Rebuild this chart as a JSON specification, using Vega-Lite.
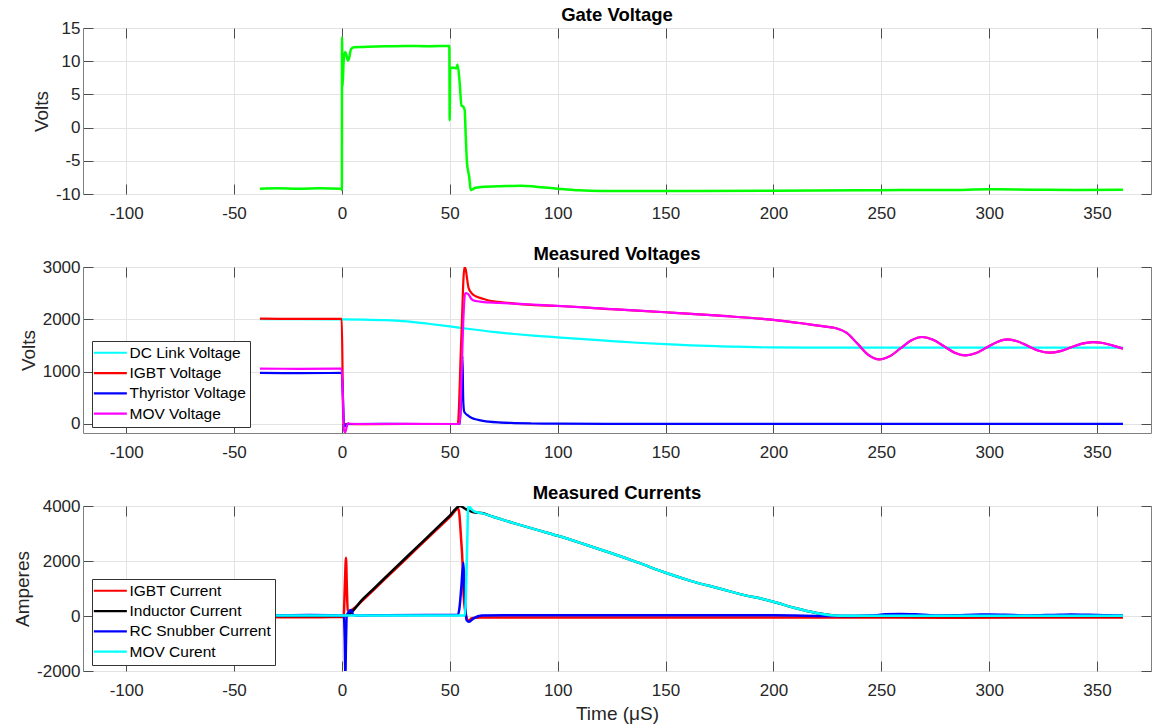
{
  "$schema": "https://vega.github.io/schema/vega-lite/v6.json",
  "padding": {"left": 13, "top": 5, "right": 0, "bottom": 0},
  "background": "white",
  "config": {
    "font": "Liberation Sans",
    "view": {"stroke": "#808080", "strokeWidth": 1},
    "axis": {
      "labelFont": "Liberation Sans", "labelFontSize": 17, "labelColor": "#262626",
      "titleFont": "Liberation Sans", "titleFontSize": 19, "titleFontWeight": "normal", "titleColor": "#262626",
      "gridColor": "#e3e3e3", "gridWidth": 1, "domain": false,
      "tickColor": "#4d4d4d", "tickSize": -10, "tickWidth": 1, "labelExpr": "'' + datum.value"
    },
    "axisX": {"labelPadding": 21},
    "axisY": {"labelPadding": 13, "titlePadding": 4},
    "title": {"font": "Liberation Sans", "fontSize": 18.5, "fontWeight": "bold", "color": "#000000", "offset": -5, "anchor": "middle"},
    "legend": {
      "orient": "none", "title": null, "symbolType": "M-1.8,0H4.2", "symbolSize": 121, "symbolStrokeWidth": 2.2,
      "labelFont": "Liberation Sans", "labelFontSize": 15.5, "labelColor": "#000000", "padding": 4, "rowPadding": 3.3,
      "labelOffset": 18, "strokeColor": "#333333", "fillColor": "white", "cornerRadius": 0
    }
  },
  "spacing": 73,
  "bounds": "flush",
  "resolve": {"scale": {"x": "independent", "y": "independent", "color": "independent"}},
  "datasets": {
    "gate": [
      {"t": -38, "v": -9.2}, {"t": -30, "v": -9.15}, {"t": -20, "v": -9.2}, {"t": -10, "v": -9.15}, {"t": -0.2, "v": -9.2},
      {"t": 0, "v": -9.4}, {"t": 0.05, "v": 13.6}, {"t": 0.3, "v": 6.2}, {"t": 0.8, "v": 10}, {"t": 1.5, "v": 11.4},
      {"t": 2.2, "v": 10.8}, {"t": 2.8, "v": 10.1}, {"t": 3.3, "v": 10.4}, {"t": 4.2, "v": 11.8}, {"t": 5.5, "v": 12.1},
      {"t": 10, "v": 12.15}, {"t": 20, "v": 12.25}, {"t": 30, "v": 12.3}, {"t": 40, "v": 12.25}, {"t": 49.8, "v": 12.3},
      {"t": 49.95, "v": 1.1}, {"t": 50.2, "v": 9.0}, {"t": 52, "v": 9.0}, {"t": 53, "v": 8.9}, {"t": 53.6, "v": 9.5},
      {"t": 54.6, "v": 6.7}, {"t": 55.4, "v": 3.3}, {"t": 56.0, "v": 3.25}, {"t": 56.9, "v": 2.65}, {"t": 57.4, "v": -1.4},
      {"t": 58.0, "v": -5.4}, {"t": 59.0, "v": -7.4}, {"t": 59.7, "v": -9.4}, {"t": 60.5, "v": -9.3}, {"t": 62, "v": -9.05},
      {"t": 66, "v": -8.9}, {"t": 72, "v": -8.85}, {"t": 83, "v": -8.75}, {"t": 90, "v": -8.9}, {"t": 100, "v": -9.2},
      {"t": 110, "v": -9.45}, {"t": 120, "v": -9.55}, {"t": 150, "v": -9.55}, {"t": 200, "v": -9.5}, {"t": 240, "v": -9.45},
      {"t": 260, "v": -9.4}, {"t": 280, "v": -9.4}, {"t": 300, "v": -9.3}, {"t": 320, "v": -9.35}, {"t": 340, "v": -9.4},
      {"t": 362, "v": -9.35}
    ],
    "volt": [
      {"s": "DC Link Voltage", "t": -38, "v": 2005}, {"s": "DC Link Voltage", "t": -20, "v": 2002}, {"s": "DC Link Voltage", "t": 0, "v": 2000},
      {"s": "DC Link Voltage", "t": 10, "v": 1996}, {"s": "DC Link Voltage", "t": 20, "v": 1985}, {"s": "DC Link Voltage", "t": 30, "v": 1960},
      {"s": "DC Link Voltage", "t": 40, "v": 1915}, {"s": "DC Link Voltage", "t": 50, "v": 1865}, {"s": "DC Link Voltage", "t": 60, "v": 1810},
      {"s": "DC Link Voltage", "t": 70, "v": 1760}, {"s": "DC Link Voltage", "t": 80, "v": 1720}, {"s": "DC Link Voltage", "t": 90, "v": 1685},
      {"s": "DC Link Voltage", "t": 100, "v": 1655}, {"s": "DC Link Voltage", "t": 112, "v": 1620}, {"s": "DC Link Voltage", "t": 125, "v": 1585},
      {"s": "DC Link Voltage", "t": 137, "v": 1553}, {"s": "DC Link Voltage", "t": 150, "v": 1525}, {"s": "DC Link Voltage", "t": 162, "v": 1503},
      {"s": "DC Link Voltage", "t": 175, "v": 1485}, {"s": "DC Link Voltage", "t": 187, "v": 1472}, {"s": "DC Link Voltage", "t": 200, "v": 1463},
      {"s": "DC Link Voltage", "t": 215, "v": 1459}, {"s": "DC Link Voltage", "t": 240, "v": 1458}, {"s": "DC Link Voltage", "t": 280, "v": 1460},
      {"s": "DC Link Voltage", "t": 320, "v": 1461}, {"s": "DC Link Voltage", "t": 362, "v": 1460},

      {"s": "IGBT Voltage", "t": -38, "v": 2012}, {"s": "IGBT Voltage", "t": -20, "v": 2010}, {"s": "IGBT Voltage", "t": -0.1, "v": 2010},
      {"s": "IGBT Voltage", "t": 0.3, "v": 1000}, {"s": "IGBT Voltage", "t": 0.6, "v": 0}, {"s": "IGBT Voltage", "t": 2, "v": 0},
      {"s": "IGBT Voltage", "t": 10, "v": -2}, {"s": "IGBT Voltage", "t": 30, "v": 0}, {"s": "IGBT Voltage", "t": 53.7, "v": 0},
      {"s": "IGBT Voltage", "t": 55.3, "v": 1600}, {"s": "IGBT Voltage", "t": 56.8, "v": 3000}, {"s": "IGBT Voltage", "t": 57.4, "v": 2950},
      {"s": "IGBT Voltage", "t": 57.9, "v": 2810}, {"s": "IGBT Voltage", "t": 58.7, "v": 2600}, {"s": "IGBT Voltage", "t": 60.2, "v": 2495},
      {"s": "IGBT Voltage", "t": 62, "v": 2440}, {"s": "IGBT Voltage", "t": 64.8, "v": 2400}, {"s": "IGBT Voltage", "t": 68, "v": 2360},
      {"s": "IGBT Voltage", "t": 72.5, "v": 2335}, {"s": "IGBT Voltage", "t": 80, "v": 2300}, {"s": "IGBT Voltage", "t": 88, "v": 2275},
      {"s": "IGBT Voltage", "t": 100, "v": 2255}, {"s": "IGBT Voltage", "t": 125, "v": 2195}, {"s": "IGBT Voltage", "t": 150, "v": 2135},
      {"s": "IGBT Voltage", "t": 175, "v": 2070}, {"s": "IGBT Voltage", "t": 200, "v": 1990}, {"s": "IGBT Voltage", "t": 213, "v": 1925},
      {"s": "IGBT Voltage", "t": 220, "v": 1885}, {"s": "IGBT Voltage", "t": 226, "v": 1850}, {"s": "IGBT Voltage", "t": 229, "v": 1830},
      {"s": "IGBT Voltage", "t": 234, "v": 1743}, {"s": "IGBT Voltage", "t": 239, "v": 1532}, {"s": "IGBT Voltage", "t": 244, "v": 1322},
      {"s": "IGBT Voltage", "t": 249, "v": 1235}, {"s": "IGBT Voltage", "t": 254, "v": 1297}, {"s": "IGBT Voltage", "t": 259, "v": 1448},
      {"s": "IGBT Voltage", "t": 264, "v": 1600}, {"s": "IGBT Voltage", "t": 269, "v": 1662}, {"s": "IGBT Voltage", "t": 274, "v": 1611},
      {"s": "IGBT Voltage", "t": 279, "v": 1487}, {"s": "IGBT Voltage", "t": 284, "v": 1363}, {"s": "IGBT Voltage", "t": 289, "v": 1312},
      {"s": "IGBT Voltage", "t": 294, "v": 1357}, {"s": "IGBT Voltage", "t": 299, "v": 1465}, {"s": "IGBT Voltage", "t": 304, "v": 1573},
      {"s": "IGBT Voltage", "t": 308.5, "v": 1618}, {"s": "IGBT Voltage", "t": 313, "v": 1581}, {"s": "IGBT Voltage", "t": 318, "v": 1490},
      {"s": "IGBT Voltage", "t": 323, "v": 1400}, {"s": "IGBT Voltage", "t": 328, "v": 1363}, {"s": "IGBT Voltage", "t": 333, "v": 1393},
      {"s": "IGBT Voltage", "t": 338, "v": 1465}, {"s": "IGBT Voltage", "t": 343, "v": 1536}, {"s": "IGBT Voltage", "t": 348, "v": 1566},
      {"s": "IGBT Voltage", "t": 352, "v": 1553}, {"s": "IGBT Voltage", "t": 356, "v": 1515}, {"s": "IGBT Voltage", "t": 359, "v": 1478},
      {"s": "IGBT Voltage", "t": 362, "v": 1440},

      {"s": "Thyristor Voltage", "t": -38, "v": 975}, {"s": "Thyristor Voltage", "t": -20, "v": 972}, {"s": "Thyristor Voltage", "t": -0.1, "v": 975},
      {"s": "Thyristor Voltage", "t": 0.5, "v": 500}, {"s": "Thyristor Voltage", "t": 1.0, "v": -45}, {"s": "Thyristor Voltage", "t": 1.6, "v": -40},
      {"s": "Thyristor Voltage", "t": 2.2, "v": 0}, {"s": "Thyristor Voltage", "t": 20, "v": 2}, {"s": "Thyristor Voltage", "t": 40, "v": 0},
      {"s": "Thyristor Voltage", "t": 54.7, "v": 0}, {"s": "Thyristor Voltage", "t": 55.4, "v": 700}, {"s": "Thyristor Voltage", "t": 55.9, "v": 1300},
      {"s": "Thyristor Voltage", "t": 56.2, "v": 500}, {"s": "Thyristor Voltage", "t": 56.6, "v": 250}, {"s": "Thyristor Voltage", "t": 57.1, "v": 210},
      {"s": "Thyristor Voltage", "t": 58.5, "v": 160}, {"s": "Thyristor Voltage", "t": 60.2, "v": 115}, {"s": "Thyristor Voltage", "t": 62.5, "v": 85},
      {"s": "Thyristor Voltage", "t": 64.8, "v": 63}, {"s": "Thyristor Voltage", "t": 68, "v": 45}, {"s": "Thyristor Voltage", "t": 72.5, "v": 30},
      {"s": "Thyristor Voltage", "t": 80, "v": 18}, {"s": "Thyristor Voltage", "t": 88, "v": 10}, {"s": "Thyristor Voltage", "t": 100, "v": 6},
      {"s": "Thyristor Voltage", "t": 150, "v": 3}, {"s": "Thyristor Voltage", "t": 200, "v": 3}, {"s": "Thyristor Voltage", "t": 250, "v": 4},
      {"s": "Thyristor Voltage", "t": 300, "v": 3}, {"s": "Thyristor Voltage", "t": 362, "v": 3},

      {"s": "MOV Voltage", "t": -38, "v": 1058}, {"s": "MOV Voltage", "t": -20, "v": 1055}, {"s": "MOV Voltage", "t": -0.1, "v": 1057},
      {"s": "MOV Voltage", "t": 0.4, "v": 600}, {"s": "MOV Voltage", "t": 0.9, "v": -100}, {"s": "MOV Voltage", "t": 1.5, "v": -160},
      {"s": "MOV Voltage", "t": 2.2, "v": -60}, {"s": "MOV Voltage", "t": 2.9, "v": 18}, {"s": "MOV Voltage", "t": 3.6, "v": 5},
      {"s": "MOV Voltage", "t": 10, "v": 0}, {"s": "MOV Voltage", "t": 30, "v": 2}, {"s": "MOV Voltage", "t": 54.5, "v": 0},
      {"s": "MOV Voltage", "t": 55.5, "v": 1000}, {"s": "MOV Voltage", "t": 56.4, "v": 2100}, {"s": "MOV Voltage", "t": 57.1, "v": 2495},
      {"s": "MOV Voltage", "t": 57.6, "v": 2500}, {"s": "MOV Voltage", "t": 58.7, "v": 2476}, {"s": "MOV Voltage", "t": 60.2, "v": 2380},
      {"s": "MOV Voltage", "t": 62, "v": 2350}, {"s": "MOV Voltage", "t": 64.8, "v": 2335}, {"s": "MOV Voltage", "t": 72.5, "v": 2315},
      {"s": "MOV Voltage", "t": 88, "v": 2283}, {"s": "MOV Voltage", "t": 100, "v": 2258}, {"s": "MOV Voltage", "t": 125, "v": 2195},
      {"s": "MOV Voltage", "t": 150, "v": 2135}, {"s": "MOV Voltage", "t": 175, "v": 2070}, {"s": "MOV Voltage", "t": 200, "v": 1990},
      {"s": "MOV Voltage", "t": 213, "v": 1925}, {"s": "MOV Voltage", "t": 220, "v": 1885}, {"s": "MOV Voltage", "t": 226, "v": 1850},
      {"s": "MOV Voltage", "t": 229, "v": 1830}, {"s": "MOV Voltage", "t": 234, "v": 1743}, {"s": "MOV Voltage", "t": 239, "v": 1532},
      {"s": "MOV Voltage", "t": 244, "v": 1322}, {"s": "MOV Voltage", "t": 249, "v": 1235}, {"s": "MOV Voltage", "t": 254, "v": 1297},
      {"s": "MOV Voltage", "t": 259, "v": 1448}, {"s": "MOV Voltage", "t": 264, "v": 1600}, {"s": "MOV Voltage", "t": 269, "v": 1662},
      {"s": "MOV Voltage", "t": 274, "v": 1611}, {"s": "MOV Voltage", "t": 279, "v": 1487}, {"s": "MOV Voltage", "t": 284, "v": 1363},
      {"s": "MOV Voltage", "t": 289, "v": 1312}, {"s": "MOV Voltage", "t": 294, "v": 1357}, {"s": "MOV Voltage", "t": 299, "v": 1465},
      {"s": "MOV Voltage", "t": 304, "v": 1573}, {"s": "MOV Voltage", "t": 308.5, "v": 1618}, {"s": "MOV Voltage", "t": 313, "v": 1581},
      {"s": "MOV Voltage", "t": 318, "v": 1490}, {"s": "MOV Voltage", "t": 323, "v": 1400}, {"s": "MOV Voltage", "t": 328, "v": 1363},
      {"s": "MOV Voltage", "t": 333, "v": 1393}, {"s": "MOV Voltage", "t": 338, "v": 1465}, {"s": "MOV Voltage", "t": 343, "v": 1536},
      {"s": "MOV Voltage", "t": 348, "v": 1566}, {"s": "MOV Voltage", "t": 352, "v": 1553}, {"s": "MOV Voltage", "t": 356, "v": 1515},
      {"s": "MOV Voltage", "t": 359, "v": 1478}, {"s": "MOV Voltage", "t": 362, "v": 1440}
    ],
    "curr": [
      {"s": "IGBT Current", "t": -38, "v": -40}, {"s": "IGBT Current", "t": -20, "v": -45}, {"s": "IGBT Current", "t": -5, "v": -40},
      {"s": "IGBT Current", "t": 0.8, "v": -40}, {"s": "IGBT Current", "t": 1.4, "v": 1200}, {"s": "IGBT Current", "t": 1.9, "v": 2120},
      {"s": "IGBT Current", "t": 2.3, "v": 1000}, {"s": "IGBT Current", "t": 2.7, "v": 200}, {"s": "IGBT Current", "t": 3.5, "v": 180},
      {"s": "IGBT Current", "t": 5, "v": 240}, {"s": "IGBT Current", "t": 10, "v": 600}, {"s": "IGBT Current", "t": 20, "v": 1350},
      {"s": "IGBT Current", "t": 30, "v": 2100}, {"s": "IGBT Current", "t": 40, "v": 2850}, {"s": "IGBT Current", "t": 50, "v": 3600},
      {"s": "IGBT Current", "t": 54, "v": 3900}, {"s": "IGBT Current", "t": 55.3, "v": 2730}, {"s": "IGBT Current", "t": 55.9, "v": 1940},
      {"s": "IGBT Current", "t": 56.4, "v": 770}, {"s": "IGBT Current", "t": 57.5, "v": 40}, {"s": "IGBT Current", "t": 58.6, "v": -180},
      {"s": "IGBT Current", "t": 60.2, "v": -85}, {"s": "IGBT Current", "t": 64, "v": -55}, {"s": "IGBT Current", "t": 80, "v": -50},
      {"s": "IGBT Current", "t": 120, "v": -55}, {"s": "IGBT Current", "t": 160, "v": -50}, {"s": "IGBT Current", "t": 200, "v": -55},
      {"s": "IGBT Current", "t": 240, "v": -50}, {"s": "IGBT Current", "t": 280, "v": -60}, {"s": "IGBT Current", "t": 320, "v": -55},
      {"s": "IGBT Current", "t": 362, "v": -55},

      {"s": "Inductor Current", "t": -38, "v": 0}, {"s": "Inductor Current", "t": 1.5, "v": 0}, {"s": "Inductor Current", "t": 10, "v": 640},
      {"s": "Inductor Current", "t": 20, "v": 1390}, {"s": "Inductor Current", "t": 30, "v": 2145}, {"s": "Inductor Current", "t": 40, "v": 2895},
      {"s": "Inductor Current", "t": 50, "v": 3650}, {"s": "Inductor Current", "t": 54.7, "v": 4000}, {"s": "Inductor Current", "t": 57.1, "v": 3900},
      {"s": "Inductor Current", "t": 59, "v": 3830}, {"s": "Inductor Current", "t": 61.7, "v": 3760}, {"s": "Inductor Current", "t": 64.8, "v": 3742},
      {"s": "Inductor Current", "t": 70, "v": 3610}, {"s": "Inductor Current", "t": 80, "v": 3370}, {"s": "Inductor Current", "t": 90, "v": 3140},
      {"s": "Inductor Current", "t": 100, "v": 2918}, {"s": "Inductor Current", "t": 112, "v": 2620}, {"s": "Inductor Current", "t": 125, "v": 2280},
      {"s": "Inductor Current", "t": 137, "v": 1950}, {"s": "Inductor Current", "t": 150, "v": 1571}, {"s": "Inductor Current", "t": 162, "v": 1270},
      {"s": "Inductor Current", "t": 175, "v": 1000}, {"s": "Inductor Current", "t": 187, "v": 750}, {"s": "Inductor Current", "t": 195, "v": 620},
      {"s": "Inductor Current", "t": 202, "v": 470}, {"s": "Inductor Current", "t": 210, "v": 290}, {"s": "Inductor Current", "t": 220, "v": 110},
      {"s": "Inductor Current", "t": 228, "v": 20}, {"s": "Inductor Current", "t": 233, "v": 0}, {"s": "Inductor Current", "t": 300, "v": 0},
      {"s": "Inductor Current", "t": 362, "v": 0},

      {"s": "RC Snubber Current", "t": -38, "v": 30}, {"s": "RC Snubber Current", "t": -30, "v": 25}, {"s": "RC Snubber Current", "t": -15, "v": 35},
      {"s": "RC Snubber Current", "t": -5, "v": 30}, {"s": "RC Snubber Current", "t": 0.9, "v": 20}, {"s": "RC Snubber Current", "t": 1.3, "v": -800},
      {"s": "RC Snubber Current", "t": 1.6, "v": -2100}, {"s": "RC Snubber Current", "t": 1.9, "v": -900}, {"s": "RC Snubber Current", "t": 2.2, "v": 0},
      {"s": "RC Snubber Current", "t": 3.2, "v": 150}, {"s": "RC Snubber Current", "t": 4.3, "v": 220}, {"s": "RC Snubber Current", "t": 5.2, "v": 40},
      {"s": "RC Snubber Current", "t": 7, "v": 20}, {"s": "RC Snubber Current", "t": 20, "v": 30}, {"s": "RC Snubber Current", "t": 40, "v": 35},
      {"s": "RC Snubber Current", "t": 53.8, "v": 40}, {"s": "RC Snubber Current", "t": 54.5, "v": 300}, {"s": "RC Snubber Current", "t": 55.4, "v": 1100},
      {"s": "RC Snubber Current", "t": 56.3, "v": 1940}, {"s": "RC Snubber Current", "t": 56.8, "v": 1000}, {"s": "RC Snubber Current", "t": 57.3, "v": 200},
      {"s": "RC Snubber Current", "t": 57.8, "v": -150}, {"s": "RC Snubber Current", "t": 58.9, "v": -210}, {"s": "RC Snubber Current", "t": 61, "v": -85},
      {"s": "RC Snubber Current", "t": 64.8, "v": 20}, {"s": "RC Snubber Current", "t": 80, "v": 30}, {"s": "RC Snubber Current", "t": 120, "v": 25},
      {"s": "RC Snubber Current", "t": 160, "v": 30}, {"s": "RC Snubber Current", "t": 200, "v": 25}, {"s": "RC Snubber Current", "t": 230, "v": 0},
      {"s": "RC Snubber Current", "t": 245, "v": 20}, {"s": "RC Snubber Current", "t": 252, "v": 60}, {"s": "RC Snubber Current", "t": 259, "v": 75},
      {"s": "RC Snubber Current", "t": 266, "v": 60}, {"s": "RC Snubber Current", "t": 275, "v": 20}, {"s": "RC Snubber Current", "t": 285, "v": 25},
      {"s": "RC Snubber Current", "t": 293, "v": 50}, {"s": "RC Snubber Current", "t": 300, "v": 55}, {"s": "RC Snubber Current", "t": 307, "v": 45},
      {"s": "RC Snubber Current", "t": 318, "v": 20}, {"s": "RC Snubber Current", "t": 330, "v": 40}, {"s": "RC Snubber Current", "t": 338, "v": 55},
      {"s": "RC Snubber Current", "t": 346, "v": 45}, {"s": "RC Snubber Current", "t": 355, "v": 25}, {"s": "RC Snubber Current", "t": 362, "v": 20},

      {"s": "MOV Curent", "t": -38, "v": 15}, {"s": "MOV Curent", "t": -20, "v": 20}, {"s": "MOV Curent", "t": 0, "v": 15},
      {"s": "MOV Curent", "t": 20, "v": 20}, {"s": "MOV Curent", "t": 40, "v": 15}, {"s": "MOV Curent", "t": 57.0, "v": 15},
      {"s": "MOV Curent", "t": 57.4, "v": 600}, {"s": "MOV Curent", "t": 58.0, "v": 2400}, {"s": "MOV Curent", "t": 58.6, "v": 4020},
      {"s": "MOV Curent", "t": 59.4, "v": 3950}, {"s": "MOV Curent", "t": 60.5, "v": 3850}, {"s": "MOV Curent", "t": 61.7, "v": 3790},
      {"s": "MOV Curent", "t": 64.8, "v": 3742}, {"s": "MOV Curent", "t": 70, "v": 3610}, {"s": "MOV Curent", "t": 80, "v": 3370},
      {"s": "MOV Curent", "t": 90, "v": 3140}, {"s": "MOV Curent", "t": 100, "v": 2918}, {"s": "MOV Curent", "t": 112, "v": 2620},
      {"s": "MOV Curent", "t": 125, "v": 2280}, {"s": "MOV Curent", "t": 137, "v": 1950}, {"s": "MOV Curent", "t": 150, "v": 1571},
      {"s": "MOV Curent", "t": 162, "v": 1270}, {"s": "MOV Curent", "t": 175, "v": 1000}, {"s": "MOV Curent", "t": 187, "v": 750},
      {"s": "MOV Curent", "t": 195, "v": 620}, {"s": "MOV Curent", "t": 202, "v": 470}, {"s": "MOV Curent", "t": 210, "v": 290},
      {"s": "MOV Curent", "t": 220, "v": 110}, {"s": "MOV Curent", "t": 228, "v": 20}, {"s": "MOV Curent", "t": 233, "v": 5},
      {"s": "MOV Curent", "t": 250, "v": 5}, {"s": "MOV Curent", "t": 300, "v": 5}, {"s": "MOV Curent", "t": 362, "v": 8}
    ]
  },
  "vconcat": [
    {
      "width": 1068, "height": 166,
      "title": {"text": "Gate Voltage"},
      "resolve": {"axis": {"x": "independent", "y": "independent"}},
      "layer": [
        {
          "data": {"name": "gate"},
          "mark": {"type": "line", "color": "#00ff00", "strokeWidth": 2.5, "clip": true, "interpolate": "monotone"},
          "encoding": {
            "x": {"field": "t", "type": "quantitative", "scale": {"domain": [-120, 375], "nice": false, "zero": false},
                  "axis": {"values": [-100, -50, 0, 50, 100, 150, 200, 250, 300, 350], "title": null}},
            "y": {"field": "v", "type": "quantitative", "scale": {"domain": [-10, 15], "nice": false, "zero": false},
                  "axis": {"values": [-10, -5, 0, 5, 10, 15], "title": "Volts"}}
          }
        },
        {
          "data": {"values": [{"t": 0, "v": 0}]},
          "mark": {"type": "point", "opacity": 0},
          "encoding": {
            "x": {"field": "t", "type": "quantitative", "scale": {"domain": [-120, 375], "nice": false, "zero": false},
                  "axis": {"orient": "top", "values": [-100, -50, 0, 50, 100, 150, 200, 250, 300, 350], "labels": false, "grid": false, "title": null, "labelPadding": 0}},
            "y": {"field": "v", "type": "quantitative", "scale": {"domain": [-10, 15], "nice": false, "zero": false},
                  "axis": {"orient": "right", "values": [-10, -5, 0, 5, 10, 15], "labels": false, "grid": false, "title": null, "labelPadding": 0}}
          }
        }
      ]
    },
    {
      "width": 1068, "height": 166,
      "title": {"text": "Measured Voltages"},
      "resolve": {"axis": {"x": "independent", "y": "independent"}},
      "layer": [
        {
          "data": {"name": "volt"},
          "mark": {"type": "line", "strokeWidth": 2.2, "clip": true, "interpolate": "monotone"},
          "encoding": {
            "x": {"field": "t", "type": "quantitative", "scale": {"domain": [-120, 375], "nice": false, "zero": false},
                  "axis": {"values": [-100, -50, 0, 50, 100, 150, 200, 250, 300, 350], "title": null}},
            "y": {"field": "v", "type": "quantitative", "scale": {"domain": [-172, 3000], "nice": false, "zero": false},
                  "axis": {"values": [0, 1000, 2000, 3000], "title": "Volts"}},
            "color": {"field": "s", "type": "nominal",
                      "scale": {"domain": ["DC Link Voltage", "IGBT Voltage", "Thyristor Voltage", "MOV Voltage"], "range": ["#00ffff", "#ff0000", "#0000ff", "#ff00ff"]},
                      "legend": {"legendX": 9, "legendY": 74}}
          }
        },
        {
          "data": {"values": [{"t": 0, "v": 0}]},
          "mark": {"type": "point", "opacity": 0},
          "encoding": {
            "x": {"field": "t", "type": "quantitative", "scale": {"domain": [-120, 375], "nice": false, "zero": false},
                  "axis": {"orient": "top", "values": [-100, -50, 0, 50, 100, 150, 200, 250, 300, 350], "labels": false, "grid": false, "title": null, "labelPadding": 0}},
            "y": {"field": "v", "type": "quantitative", "scale": {"domain": [-172, 3000], "nice": false, "zero": false},
                  "axis": {"orient": "right", "values": [0, 1000, 2000, 3000], "labels": false, "grid": false, "title": null, "labelPadding": 0}}
          }
        }
      ]
    },
    {
      "width": 1068, "height": 165,
      "title": {"text": "Measured Currents"},
      "resolve": {"axis": {"x": "independent", "y": "independent"}},
      "layer": [
        {
          "data": {"name": "curr"},
          "mark": {"type": "line", "strokeWidth": 2.5, "clip": true, "interpolate": "monotone"},
          "encoding": {
            "x": {"field": "t", "type": "quantitative", "scale": {"domain": [-120, 375], "nice": false, "zero": false},
                  "axis": {"values": [-100, -50, 0, 50, 100, 150, 200, 250, 300, 350], "title": "Time (μS)", "titlePadding": 6}},
            "y": {"field": "v", "type": "quantitative", "scale": {"domain": [-2000, 4000], "nice": false, "zero": false},
                  "axis": {"values": [-2000, 0, 2000, 4000], "title": "Amperes"}},
            "color": {"field": "s", "type": "nominal",
                      "scale": {"domain": ["IGBT Current", "Inductor Current", "RC Snubber Current", "MOV Curent"], "range": ["#ff0000", "#000000", "#0000ff", "#00ffff"]},
                      "legend": {"legendX": 9, "legendY": 73}}
          }
        },
        {
          "data": {"values": [{"t": 0, "v": 0}]},
          "mark": {"type": "point", "opacity": 0},
          "encoding": {
            "x": {"field": "t", "type": "quantitative", "scale": {"domain": [-120, 375], "nice": false, "zero": false},
                  "axis": {"orient": "top", "values": [-100, -50, 0, 50, 100, 150, 200, 250, 300, 350], "labels": false, "grid": false, "title": null, "labelPadding": 0}},
            "y": {"field": "v", "type": "quantitative", "scale": {"domain": [-2000, 4000], "nice": false, "zero": false},
                  "axis": {"orient": "right", "values": [-2000, 0, 2000, 4000], "labels": false, "grid": false, "title": null, "labelPadding": 0}}
          }
        }
      ]
    }
  ]
}
